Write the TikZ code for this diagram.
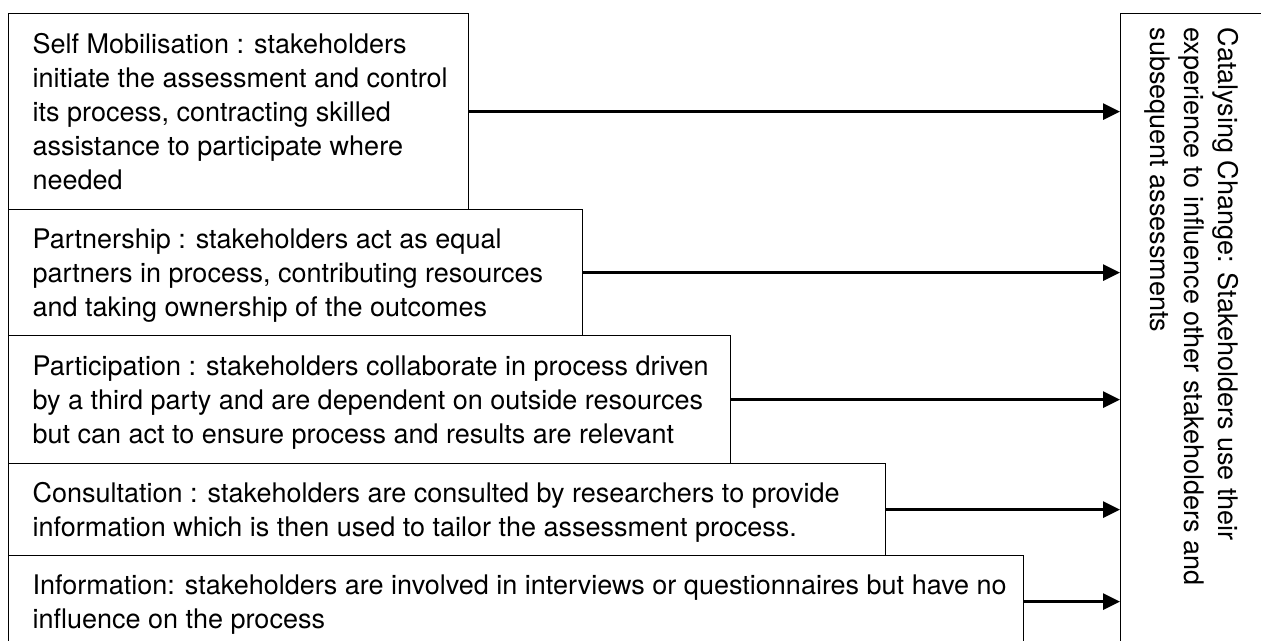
\documentclass[tikz,border=0pt]{standalone}
\usepackage{fontspec}
\setmainfont{TeX Gyre Heros}
\usetikzlibrary{arrows.meta}
\newcommand{\boxlines}[2]{\makebox[#1][l]{\raisebox{-1.5pt}[\height][\depth]{\begin{tabular}{@{}l@{}}#2\end{tabular}}}}
\newcommand{\catlines}[3]{\makebox[#1][l]{\raisebox{#2}[\height][\depth]{\begin{tabular}{@{}l@{}}#3\end{tabular}}}}
\begin{document}
\begin{tikzpicture}[x=0.5pt,y=-0.5pt,
  levelbox/.style={draw=black, line width=0.6pt, inner xsep=12pt, inner ysep=0pt,
    anchor=north west, font=\fontsize{13.5}{17}\selectfont},
  catbox/.style={draw=black, line width=0.6pt, inner xsep=7pt, inner ysep=0pt,
    rotate=-90, anchor=south west, font=\fontsize{13.5}{17}\selectfont},
  arr/.style={line width=1.4pt, -{Triangle[length=8.5pt,width=8pt]}}]
\useasboundingbox (0,0) rectangle (1261,641);
\clip (0,0) rectangle (1261,641);
\node[levelbox, minimum height=98pt] (b1) at (8,13)
  {\boxlines{206pt}{Self Mobilisation : stakeholders\\ initiate the assessment and control\\ its process, contracting skilled\\ assistance to participate where\\ needed}};
\node[levelbox, minimum height=63pt] (b2) at (8,209)
  {\boxlines{263pt}{Partnership : stakeholders act as equal\\ partners in process, contributing resources\\ and taking ownership of the outcomes}};
\node[levelbox, minimum height=64pt] (b3) at (8,335)
  {\boxlines{337pt}{Participation : stakeholders collaborate in process driven\\ by a third party and are dependent on outside resources\\ but can act to ensure process and results are relevant}};
\node[levelbox, minimum height=46pt] (b4) at (8,463)
  {\boxlines{414.5pt}{Consultation : stakeholders are consulted by researchers to provide\\ information which is then used to tailor the assessment process.}};
\node[levelbox, minimum height=46pt] (b5) at (8,555)
  {\boxlines{483.5pt}{Information: stakeholders are involved in interviews or questionnaires but have no\\ influence on the process}};
\node[catbox, minimum width=350pt, minimum height=100pt] (cat) at (1120,13)
  {\catlines{336pt}{-14.5pt}{Catalysing Change: Stakeholders use their\\ experience to influence other stakeholders and\\ subsequent assessments}};
\draw[arr] (b1.east) -- (b1.east -| cat.south);
\draw[arr] (b2.east) -- (b2.east -| cat.south);
\draw[arr] (b3.east) -- (b3.east -| cat.south);
\draw[arr] (b4.east) -- (b4.east -| cat.south);
\draw[arr] (b5.east) -- (b5.east -| cat.south);
\end{tikzpicture}
\end{document}
